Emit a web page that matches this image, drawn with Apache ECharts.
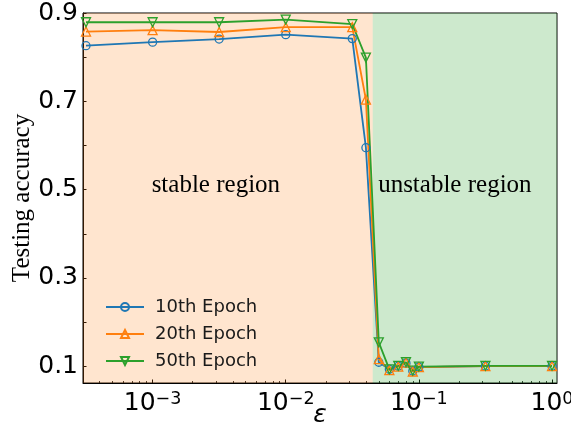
<!DOCTYPE html>
<html><head><meta charset="utf-8">
<script src="https://cdn.jsdelivr.net/npm/echarts@6/dist/echarts.min.js"></script>
<style>html,body{margin:0;padding:0;background:#fff}#c{width:571px;height:425px}</style>
</head><body><div id="c"></div>
<script>
// ---- data ----
const epsilon = [3.16e-4, 1e-3, 3.16e-3, 1e-2, 3.16e-2, 0.04, 0.05, 0.06, 0.07, 0.08, 0.09, 0.1, 0.316, 1];
const epoch10 = [0.826, 0.834, 0.841, 0.851, 0.842, 0.595, 0.109, 0.093, 0.100, 0.107, 0.089, 0.098, 0.100, 0.100];
const epoch20 = [0.858, 0.861, 0.857, 0.868, 0.868, 0.704, 0.116, 0.091, 0.099, 0.108, 0.088, 0.098, 0.100, 0.100];
const epoch50 = [0.879, 0.879, 0.879, 0.885, 0.875, 0.799, 0.154, 0.093, 0.101, 0.109, 0.090, 0.099, 0.101, 0.101];
const seriesNames = ['10th Epoch', '20th Epoch', '50th Epoch'];
const xMajorTicks = [1e-3, 1e-2, 1e-1, 1];
const xMinorTicks = [4e-4,5e-4,6e-4,7e-4,8e-4,9e-4, 2e-3,3e-3,4e-3,5e-3,6e-3,7e-3,8e-3,9e-3,
                     2e-2,3e-2,4e-2,5e-2,6e-2,7e-2,8e-2,9e-2, 2e-1,3e-1,4e-1,5e-1,6e-1,7e-1,8e-1,9e-1];
const yTicks = [0.1, 0.2, 0.3, 0.4, 0.5, 0.6, 0.7, 0.8, 0.9];
const yTickLabels = [0.1, 0.3, 0.5, 0.7, 0.9];
const xRange = [3e-4, 1.09];
const yRange = [0.062, 0.9];
const regionNames = ['stable region', 'unstable region'];
const regionBounds = [[3e-4, 0.045], [0.045, 1.09]];

const colors = ['#1f77b4', '#ff7f0e', '#2ca02c'];
const regionColors = ['rgba(255,127,14,0.2)', 'rgba(44,160,44,0.235)'];
const regionLabelOffsets = [[-12, -13], [-10, -13]];

const chart = echarts.init(document.getElementById('c'), null, {renderer: 'canvas'});
const sans = 'DejaVu Sans';
const serif = 'Liberation Serif';

function mkSeries(name, vals, color, symbol, rotate) {
  return {
    name, type: 'line', xAxisIndex: 0, yAxisIndex: 0, z: 3,
    data: epsilon.map((x, i) => [x, vals[i]]),
    symbol, symbolSize: symbol === 'circle' ? 8 : 9, symbolRotate: rotate,
    showAllSymbol: true,
    lineStyle: {color, width: 1.8},
    itemStyle: {color: 'rgba(0,0,0,0)', borderColor: color, borderWidth: 1.3},
    emphasis: {disabled: true},
    animation: false
  };
}

const option = {
  animation: false,
  grid: {left: 83, right: 14, top: 13, bottom: 42, show: true, borderColor: '#000', borderWidth: 1, containLabel: false, outerBoundsMode: 'none'},
  legend: {
    data: seriesNames, orient: 'vertical', left: 100, top: 292,
    itemWidth: 38, itemHeight: 10, itemGap: 7,
    textStyle: {fontFamily: sans, fontSize: 18, color: '#1a1a1a', lineHeight: 20, padding: [0, 0, 0, 6]},
    selectedMode: false
  },
  xAxis: [{
    type: 'log', logBase: 10, min: xRange[0], max: xRange[1], position: 'bottom',
    name: 'ε', nameLocation: 'middle', nameGap: 20, nameMoveOverlap: false,
    nameTextStyle: {fontFamily: sans, fontStyle: 'italic', fontSize: 25, color: '#000'},
    axisLine: {show: true, lineStyle: {color: '#000', width: 1}},
    axisTick: {show: true, inside: true, length: 3.5, customValues: xMajorTicks, lineStyle: {color: '#000', width: 1}},
    axisLabel: {
      customValues: xMajorTicks, margin: 7, color: '#000',
      formatter: v => '{b|10}{s|' + String(Math.round(Math.log10(v))).replace('-', '\u2212') + '}',
      rich: {
        b: {fontFamily: sans, fontSize: 25, lineHeight: 26, color: '#000'},
        s: {fontFamily: sans, fontSize: 17.5, lineHeight: 12, verticalAlign: 'top', color: '#000'}
      }
    },
    splitLine: {show: false}, minorTick: {show: false}
  }, {
    type: 'log', logBase: 10, min: xRange[0], max: xRange[1], position: 'bottom', offset: 0,
    axisLine: {show: false},
    axisTick: {show: true, inside: true, length: 2, customValues: xMinorTicks, lineStyle: {color: '#000', width: 0.8}},
    axisLabel: {show: false},
    splitLine: {show: false}
  }],
  yAxis: {
    type: 'value', min: yRange[0], max: yRange[1],
    name: 'Testing accuracy', nameLocation: 'middle', nameGap: 48, nameMoveOverlap: false,
    nameTextStyle: {fontFamily: serif, fontSize: 25, color: '#000'},
    axisLine: {show: true, lineStyle: {color: '#000', width: 1}},
    axisTick: {show: true, inside: true, length: 3.5, customValues: yTicks, lineStyle: {color: '#000', width: 1}},
    axisLabel: {customValues: yTickLabels, margin: 5, fontFamily: sans, fontSize: 25, color: '#000', padding: [3, 0, 0, 0], formatter: v => v.toFixed(1)},
    splitLine: {show: false}
  },
  series: [
    {
      type: 'line', name: 'regions', data: [], z: 1, silent: true,
      markArea: {
        silent: true,
        data: regionBounds.map((b, i) => [
          {xAxis: b[0], name: regionNames[i], itemStyle: {color: regionColors[i]},
           label: {show: true, position: 'inside', offset: regionLabelOffsets[i], fontFamily: serif, fontSize: 25, color: '#000', formatter: regionNames[i]}},
          {xAxis: b[1]}
        ])
      }
    },
    mkSeries(seriesNames[0], epoch10, colors[0], 'circle', 0),
    mkSeries(seriesNames[1], epoch20, colors[1], 'triangle', 0),
    mkSeries(seriesNames[2], epoch50, colors[2], 'triangle', 180)
  ]
};
chart.setOption(option);
</script></body></html>
